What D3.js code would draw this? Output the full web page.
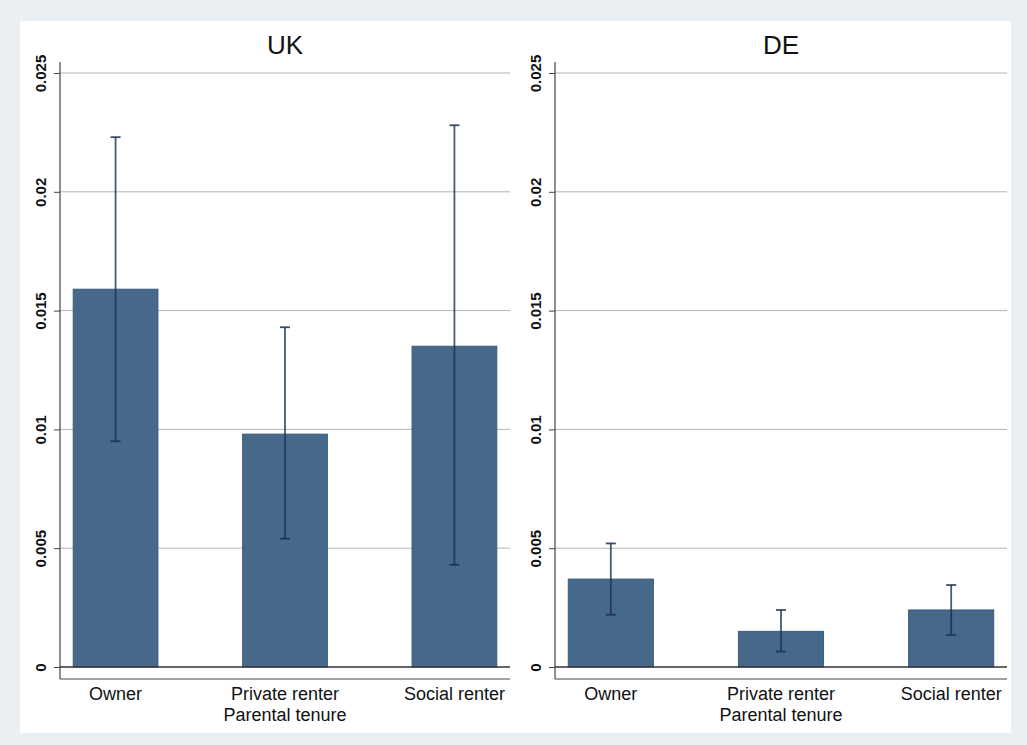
<!DOCTYPE html>
<html>
<head>
<meta charset="utf-8">
<script src="https://cdn.jsdelivr.net/npm/d3@7"></script>
<style>
  html, body { margin: 0; padding: 0; background: #e9eff2; }
  svg { display: block; }
  text { font-family: "Liberation Sans", Arial, sans-serif; fill: #111; }
</style>
</head>
<body>
<svg id="chart" width="1027" height="745"></svg>
<script>
// Parental tenure categories and panel names
const categories = ["Owner", "Private renter", "Social renter"];
const panels = ["UK", "DE"];

// Estimated means with confidence limits, per panel
const ukMean = [0.0159, 0.0098, 0.0135];
const ukLow  = [0.0095, 0.0054, 0.0043];
const ukHigh = [0.0223, 0.0143, 0.0228];

const deMean = [0.0037, 0.0015, 0.0024];
const deLow  = [0.0022, 0.00065, 0.00135];
const deHigh = [0.0052, 0.0024, 0.00345];

// Y axis ticks and labels
const yTicks = [0, 0.005, 0.01, 0.015, 0.02, 0.025];
const yTickLabels = ["0", "0.005", "0.01", "0.015", "0.02", "0.025"];
const xTitle = "Parental tenure";

const panelData = [
  { name: panels[0], mean: ukMean, low: ukLow, high: ukHigh, x0: 60, x1: 510 },
  { name: panels[1], mean: deMean, low: deLow, high: deHigh, x0: 555, x1: 1007 }
];

const svg = d3.select("#chart");

// white graph region
svg.append("rect")
  .attr("x", 20).attr("y", 21).attr("width", 991).attr("height", 712)
  .attr("fill", "#ffffff");

const y = d3.scaleLinear().domain([0, 0.025]).range([667, 73]);

const barFill = "#46688a";
const barStroke = "#3a5a7a";
const errColor = "#1c2f52";

panelData.forEach(p => {
  const g = svg.append("g");
  const x = d3.scaleBand()
    .domain(categories)
    .range([p.x0, p.x1])
    .paddingInner(0.5)
    .paddingOuter(0.078);

  // horizontal grid lines
  g.selectAll("line.grid")
    .data(yTicks.filter(t => t > 0))
    .join("line")
    .attr("class", "grid")
    .attr("x1", p.x0).attr("x2", p.x1)
    .attr("y1", d => y(d)).attr("y2", d => y(d))
    .attr("stroke", "#b4b4b4").attr("stroke-width", 1);

  // y axis
  const yAxis = d3.axisLeft(y)
    .tickValues(yTicks)
    .tickSize(6)
    .tickFormat((d, i) => yTickLabels[i]);
  const ya = g.append("g")
    .attr("transform", `translate(${p.x0},0)`)
    .call(yAxis);
  ya.select(".domain").remove();
  ya.selectAll(".tick line").attr("stroke", "#444");
  ya.selectAll(".tick text")
    .attr("transform", "rotate(-90)")
    .attr("x", 0)
    .attr("y", -14)
    .attr("dy", 0)
    .attr("text-anchor", "middle")
    .style("font-size", "15px")
    .style("font-weight", "bold")
    .style("font-family", "'Liberation Sans', Arial, sans-serif")
    .attr("fill", "#3a3a3a");

  g.append("line")
    .attr("x1", p.x0).attr("x2", p.x0)
    .attr("y1", 62).attr("y2", 679)
    .attr("stroke", "#444").attr("stroke-width", 1.2);

  // bars
  g.selectAll("rect.bar")
    .data(categories)
    .join("rect")
    .attr("class", "bar")
    .attr("x", d => x(d))
    .attr("width", x.bandwidth())
    .attr("y", (d, i) => y(p.mean[i]))
    .attr("height", (d, i) => y(0) - y(p.mean[i]))
    .attr("fill", barFill)
    .attr("stroke", barStroke)
    .attr("stroke-width", 1);

  // baseline at zero
  g.append("line")
    .attr("x1", p.x0).attr("x2", p.x1)
    .attr("y1", y(0)).attr("y2", y(0))
    .attr("stroke", "#333").attr("stroke-width", 1.5);

  // error bars
  const eb = g.selectAll("g.err")
    .data(categories)
    .join("g")
    .attr("class", "err")
    .attr("transform", d => `translate(${x(d) + x.bandwidth() / 2},0)`);
  eb.append("line")
    .attr("x1", 0).attr("x2", 0)
    .attr("y1", (d, i) => y(p.low[i]))
    .attr("y2", (d, i) => y(p.high[i]))
    .attr("stroke", errColor).attr("stroke-width", 1.8).attr("stroke-opacity", 0.8);
  ["low", "high"].forEach(k => {
    eb.append("line")
      .attr("x1", -5).attr("x2", 5)
      .attr("y1", (d, i) => y(p[k][i]))
      .attr("y2", (d, i) => y(p[k][i]))
      .attr("stroke", errColor).attr("stroke-width", 1.8).attr("stroke-opacity", 0.85);
  });

  // x axis
  const xAxis = d3.axisBottom(x).tickSize(0).tickPadding(8);
  const xa = g.append("g")
    .attr("transform", `translate(0,679)`)
    .call(xAxis);
  xa.select(".domain").remove();
  xa.selectAll(".tick text")
    .style("font-size", "18px")
    .style("font-family", "'Liberation Sans', Arial, sans-serif")
    .attr("fill", "#111");
  g.append("line")
    .attr("x1", p.x0).attr("x2", p.x1)
    .attr("y1", 679).attr("y2", 679)
    .attr("stroke", "#444").attr("stroke-width", 1.2);

  // axis title
  g.append("text")
    .attr("x", (p.x0 + p.x1) / 2)
    .attr("y", 721)
    .attr("text-anchor", "middle")
    .style("font-size", "18px")
    .text(xTitle);

  // panel title
  g.append("text")
    .attr("x", (p.x0 + p.x1) / 2)
    .attr("y", 54)
    .attr("text-anchor", "middle")
    .style("font-size", "26px")
    .text(p.name);
});
</script>
</body>
</html>
